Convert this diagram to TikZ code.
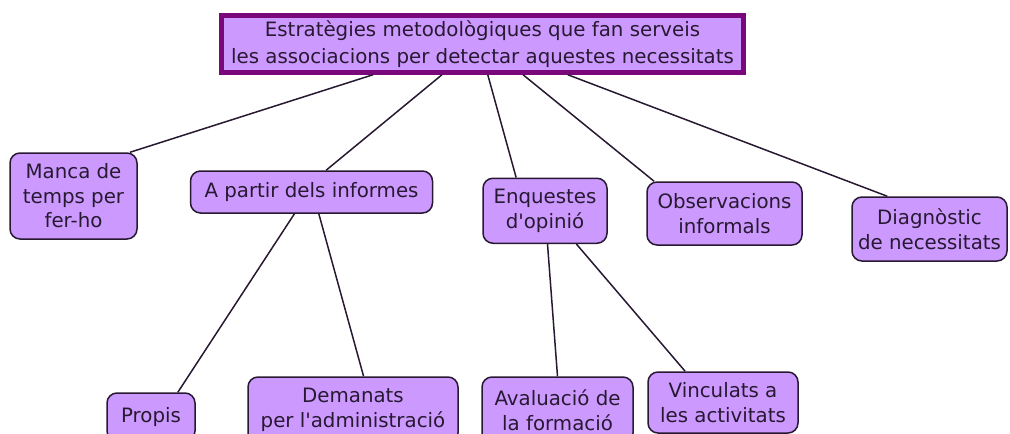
\documentclass[tikz,border=0pt]{standalone}
\usepackage{xcolor}
\usepackage{fontspec}
\setmainfont{DejaVu Sans}
\usepackage{tikz}
\usetikzlibrary{positioning,fit,calc}

\definecolor{lila}{RGB}{204,153,255}
\definecolor{morat}{RGB}{122,8,122}
\definecolor{vora}{RGB}{40,25,50}

\begin{document}
\begin{tikzpicture}[x=1pt,y=-1pt]

\tikzstyle{titol}=[rectangle, draw=morat, line width=4.5pt, fill=lila, text=vora, align=center, inner sep=2pt, font=\fontsize{19.8}{27}\selectfont]
\tikzstyle{caixa}=[rectangle, draw=vora, line width=1.5pt, rounded corners=10pt, fill=lila, text=vora, align=center, inner sep=2pt, font=\fontsize{19.8}{24.5}\selectfont]
\tikzstyle{branca}=[line width=1.5pt, draw=vora]

\useasboundingbox (0,0) rectangle (1010,434);
\clip (0,0) rectangle (1010,434);

%situacio dels nodes
\node[titol, minimum width=522pt, minimum height=57pt] (estrategies) at (482.5,44) {Estratègies metodològiques que fan serveis\\les associacions per detectar aquestes necessitats};
\node[caixa, minimum width=127pt, minimum height=86pt] (manca) at (73.5,196) {Manca de\\temps per\\fer-ho};
\node[caixa, minimum width=242pt, minimum height=42pt] (informes) at (311.5,192) {A partir dels informes};
\node[caixa, minimum width=124pt, minimum height=65pt] (enquestes) at (545,210.75) {Enquestes\\d\textquotesingle opinió};
\node[caixa, minimum width=155pt, minimum height=63pt] (observacions) at (724.5,213.5) {Observacions\\informals};
\node[caixa, minimum width=155pt, minimum height=64pt] (diagnostic) at (929.5,229) {Diagnòstic\\de necessitats};
\node[caixa, minimum width=88pt, minimum height=48pt] (propis) at (151,417) {Propis};
\node[caixa, minimum width=210pt, minimum height=66pt] (demanats) at (353,410) {Demanats\\per l\textquotesingle administració};
\node[caixa, minimum width=151pt, minimum height=66pt] (avaluacio) at (557.5,410) {Avaluació de\\la formació};
\node[caixa, minimum width=150pt, minimum height=61pt] (vinculats) at (723,402.5) {Vinculats a\\les activitats};

%situacio de les linies
\draw[branca] ($(estrategies.south west)!0.292!(estrategies.south east)$) -- ($(manca.north west)!0.94!(manca.north east)$);
\draw[branca] ($(estrategies.south west)!0.423!(estrategies.south east)$) -- ($(informes.north west)!0.56!(informes.north east)$);
\draw[branca] ($(estrategies.south west)!0.51!(estrategies.south east)$) -- ($(enquestes.north west)!0.27!(enquestes.north east)$);
\draw[branca] ($(estrategies.south west)!0.577!(estrategies.south east)$) -- ($(observacions.north west)!0.05!(observacions.north east)$);
\draw[branca] ($(estrategies.south west)!0.662!(estrategies.south east)$) -- ($(diagnostic.north west)!0.23!(diagnostic.north east)$);
\draw[branca] ($(informes.south west)!0.43!(informes.south east)$) -- ($(propis.north west)!0.8!(propis.north east)$);
\draw[branca] ($(informes.south west)!0.53!(informes.south east)$) -- ($(demanats.north west)!0.55!(demanats.north east)$);
\draw[branca] ($(enquestes.south west)!0.52!(enquestes.south east)$) -- ($(avaluacio.north west)!0.5!(avaluacio.north east)$);
\draw[branca] ($(enquestes.south west)!0.75!(enquestes.south east)$) -- ($(vinculats.north west)!0.25!(vinculats.north east)$);
\end{tikzpicture}
\end{document}
